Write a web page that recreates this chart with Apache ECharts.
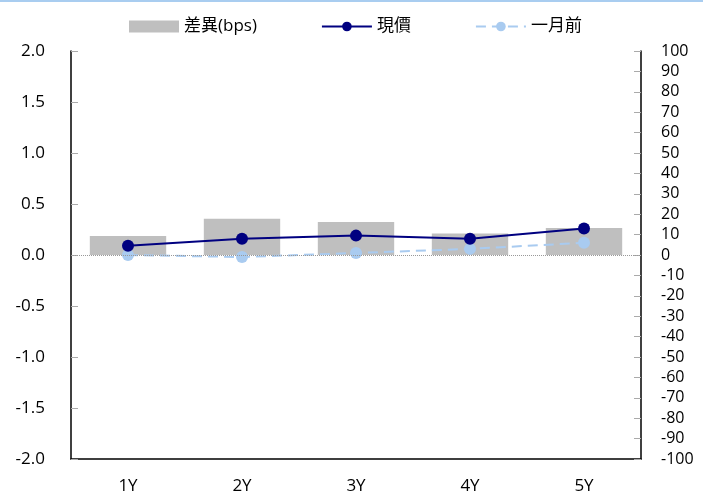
<!DOCTYPE html>
<html><head><meta charset="utf-8">
<script src="https://cdn.jsdelivr.net/npm/echarts@6/dist/echarts.min.js"></script>
<style>html,body{margin:0;padding:0;background:#fff}#c{width:703px;height:497px}</style>
</head><body><div id="c"></div>
<script>
var categories = ['1Y','2Y','3Y','4Y','5Y'];
var diffBps = [9.3, 17.8, 16.2, 10.6, 13.2];
var current = [0.09, 0.16, 0.19, 0.16, 0.26];
var monthAgo = [0.00, -0.02, 0.02, 0.06, 0.12];

var font = '"Open Sans", "Noto Sans CJK TC", sans-serif';
var chart = echarts.init(document.getElementById('c'));
chart.setOption({
  animation: false,
  textStyle: { fontFamily: font },
  graphic: [{ type: 'rect', left: 0, top: 0, shape: { width: 703, height: 2 }, style: { fill: '#a9cdf0' } }],
  legend: {
    top: 13, left: 124,
    itemGap: 64, itemWidth: 50, itemHeight: 12,
    textStyle: { fontSize: 17, color: '#000', fontFamily: font },
    data: [
      { name: '差異(bps)', icon: 'rect' },
      { name: '現價' },
      { name: '一月前' }
    ]
  },
  grid: { left: 71, right: 62, top: 51, bottom: 38 },
  xAxis: {
    type: 'category', data: categories,
    axisLine: { onZero: false, lineStyle: { color: '#000', width: 1.5 } },
    axisTick: { inside: true, length: 7, lineStyle: { color: '#aaa' } },
    axisLabel: { fontSize: 17, color: '#000', margin: 19, fontFamily: font }
  },
  yAxis: [{
    type: 'value', min: -2, max: 2, interval: 0.5,
    axisLine: { show: true, lineStyle: { color: '#000', width: 1.5 } },
    axisTick: { show: true, inside: true, length: 7, lineStyle: { color: '#aaa' } },
    splitLine: { show: false },
    axisLabel: { fontSize: 17, color: '#000', margin: 26, fontFamily: font, formatter: function (v) { return v.toFixed(1); } }
  }, {
    type: 'value', min: -100, max: 100, interval: 10, position: 'right',
    axisLine: { show: true, lineStyle: { color: '#000', width: 1.5 } },
    axisTick: { show: true, inside: true, length: 7, lineStyle: { color: '#aaa' } },
    splitLine: { show: false },
    axisLabel: { fontSize: 16, color: '#000', margin: 20, fontFamily: font, lineHeight: 16 }
  }],
  series: [{
    name: '差異(bps)', type: 'bar', yAxisIndex: 1, data: diffBps,
    barWidth: '67%', itemStyle: { color: '#bfbfbf' },
    markLine: {
      silent: true, symbol: 'none', label: { show: false },
      lineStyle: { color: '#999', type: 'dotted', width: 1 },
      data: [{ yAxis: 0 }]
    }
  }, {
    name: '現價', type: 'line', data: current,
    symbol: 'circle', symbolSize: 12,
    lineStyle: { color: '#000080', width: 2 },
    itemStyle: { color: '#000080' }, z: 4
  }, {
    name: '一月前', type: 'line', data: monthAgo,
    symbol: 'circle', symbolSize: 12,
    lineStyle: { color: '#a9cbf0', width: 2, type: [10, 6] },
    itemStyle: { color: '#a9cbf0' }, z: 3
  }]
});
</script></body></html>
